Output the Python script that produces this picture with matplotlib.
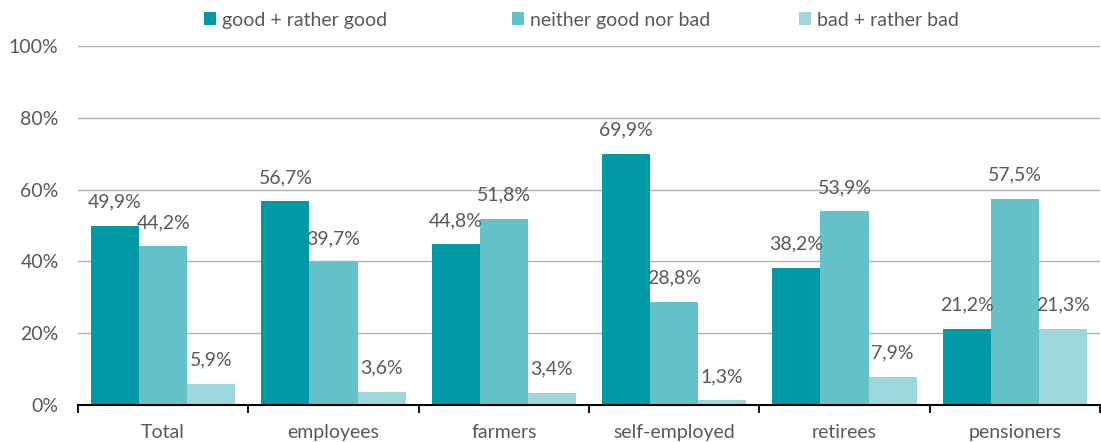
import numpy as np
import matplotlib
matplotlib.use("Agg")
import matplotlib.pyplot as plt

plt.rcParams['font.family'] = ['Lato', 'DejaVu Sans']

categories = ["Total", "employees", "farmers", "self-employed", "retirees", "pensioners"]
series_names = ["good + rather good", "neither good nor bad", "bad + rather bad"]
good = [49.9, 56.7, 44.8, 69.9, 38.2, 21.2]
neither = [44.2, 39.7, 51.8, 28.8, 53.9, 57.5]
bad = [5.9, 3.6, 3.4, 1.3, 7.9, 21.3]

colors = ["#009aa6", "#66c2c9", "#9dd7db"]
text_color = "#595959"
fs = 14

fig = plt.figure(figsize=(11.01, 4.42), dpi=100)
ax = fig.add_axes([78 / 1101, 37 / 442, 1022 / 1101, 359 / 442])

x = np.arange(len(categories))
width = 0.282
handles = []
for i, (vals, name) in enumerate(zip([good, neither, bad], series_names)):
    bars = ax.bar(x + (i - 1) * width, vals, width, color=colors[i], label=name, zorder=2)
    handles.append(bars)
    labels = [f"{v:.1f}%".replace(".", ",") for v in vals]
    ax.bar_label(bars, labels=labels, padding=11, fontsize=fs, color=text_color)

ax.set_xlim(-0.5, len(categories) - 0.5)
ax.set_ylim(0, 100)
ax.set_yticks(np.arange(0, 101, 20))
ax.set_yticklabels([f"{v}%" for v in range(0, 101, 20)])
ax.yaxis.grid(True, color="#b0b0b0", linewidth=1.0, zorder=0)
ax.set_axisbelow(True)

ax.set_xticks(x)
ax.set_xticklabels(categories)
ax.set_xticks(np.arange(-0.5, len(categories)), minor=True)
ax.tick_params(axis="x", which="major", length=0, pad=14, labelsize=fs, labelcolor=text_color)
ax.tick_params(axis="x", which="minor", length=6, width=1.3, color="black", direction="out")
ax.tick_params(axis="y", length=0, pad=14, labelsize=fs, labelcolor=text_color)

for s in ["left", "right", "top"]:
    ax.spines[s].set_visible(False)
ax.spines["bottom"].set_linewidth(1.5)
ax.spines["bottom"].set_color("black")

# legend entries placed one by one, like the original
for h, name, xpos in zip(handles, series_names, [192, 500, 787]):
    leg = fig.legend([h], [name], loc="upper left", bbox_to_anchor=(xpos / 1101, 1.0),
                     frameon=False, handlelength=0.65, handleheight=0.65, handletextpad=0.3,
                     fontsize=fs, borderaxespad=0.2)
    for t in leg.get_texts():
        t.set_color(text_color)

fig.savefig("out.png", dpi=100)
